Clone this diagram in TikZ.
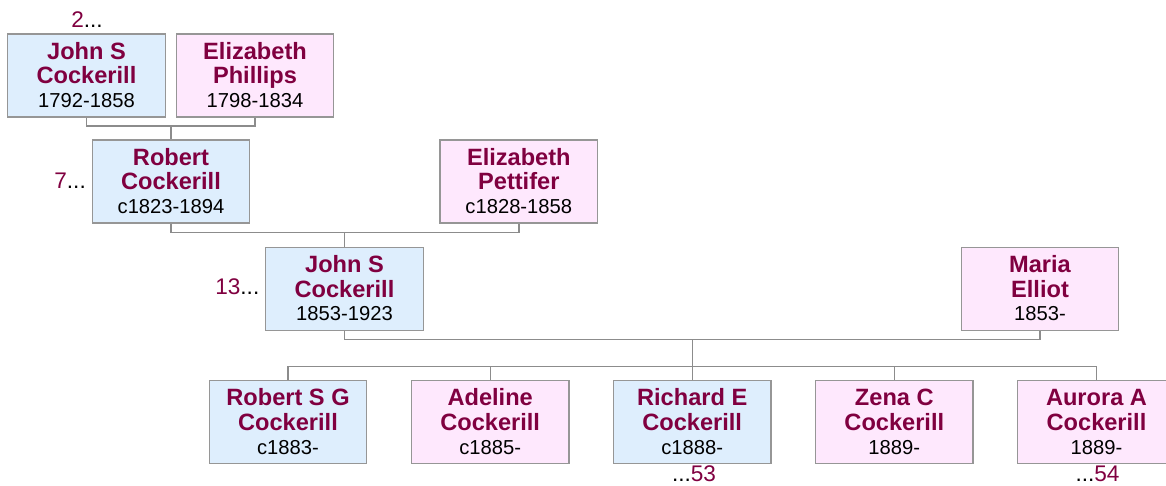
\documentclass[tikz,border=0pt]{standalone}
\usepackage{fontspec}
\setmainfont{Liberation Sans}
\definecolor{maroon}{RGB}{128,0,64}
\definecolor{bluefill}{RGB}{222,238,253}
\definecolor{pinkfill}{RGB}{254,232,253}
\definecolor{boxgray}{RGB}{150,150,150}
\definecolor{linegray}{RGB}{140,140,140}
\tikzset{
  pbox/.style={draw=boxgray, line width=1.4pt, minimum width=157.5pt, minimum height=83pt, inner sep=0pt, anchor=north},
  nm/.style={anchor=base, inner sep=0pt, text=maroon, font=\fontsize{23.6}{26}\selectfont\bfseries},
  dt/.style={anchor=base, inner sep=0pt, text=black, font=\fontsize{20.2}{24}\selectfont},
  lbl/.style={inner sep=0pt, text=black, font=\fontsize{22.6}{26}\selectfont},
  conn/.style={draw=linegray, line width=1.4pt}
}
\newcommand\person[7]{%
  \node[pbox, fill=#7] (#1) at (#2,#3) {};
  \node[nm] (#1-a) at ([yshift=-26pt]#1.north) {#4};
  \node[nm] (#1-b) at ([yshift=-50.5pt]#1.north) {#5};
  \node[dt] (#1-c) at ([yshift=-74.3pt]#1.north) {#6};
}
\begin{document}
\begin{tikzpicture}[x=1pt,y=-1pt]
\useasboundingbox (0,0) rectangle (1166,485);
\clip (0,0) rectangle (1166,485);
% generation 1
\person{js1}{86.5}{33.3}{John S}{Cockerill}{1792-1858}{bluefill}
\person{ep1}{255}{33.3}{Elizabeth}{Phillips}{1798-1834}{pinkfill}
% generation 2
\person{rc}{171}{139.3}{Robert}{Cockerill}{c1823-1894}{bluefill}
\person{ep2}{518.8}{139.3}{Elizabeth}{Pettifer}{c1828-1858}{pinkfill}
% generation 3
\person{js2}{344.5}{246.5}{John S}{Cockerill}{1853-1923}{bluefill}
\person{me}{1040}{246.5}{Maria}{Elliot}{1853-}{pinkfill}
% children
\person{k1}{288}{379.7}{Robert S G}{Cockerill}{c1883-}{bluefill}
\person{k2}{490.2}{379.7}{Adeline}{Cockerill}{c1885-}{pinkfill}
\person{k3}{692.2}{379.7}{Richard E}{Cockerill}{c1888-}{bluefill}
\person{k4}{894.3}{379.7}{Zena C}{Cockerill}{1889-}{pinkfill}
\person{k5}{1096.5}{379.7}{Aurora A}{Cockerill}{1889-}{pinkfill}
% connectors
\coordinate (m1) at (171,126);
\coordinate (m2) at (344.5,232.7);
\coordinate (m3) at (692.2,339.5);
\coordinate (c4) at (692.2,366.7);
\draw[conn] (js1.south) |- (m1) -| (ep1.south);
\draw[conn] (m1) -- (rc.north);
\draw[conn] (rc.south) |- (m2) -| (ep2.south);
\draw[conn] (m2) -- (js2.north);
\draw[conn] (js2.south) |- (m3) -| (me.south);
\draw[conn] (m3) -- (k3.north);
\draw[conn] (k1.north) |- (c4) -| (k5.north);
\draw[conn] (k2.north) -- (k2.north |- c4);
\draw[conn] (k4.north) -- (k4.north |- c4);
% labels
\node[lbl, anchor=base] (l2) at (87,27.7) {\textcolor{maroon}{2}...};
\node[lbl, anchor=base east] (l7) at (86,188.3) {\textcolor{maroon}{7}...};
\node[lbl, anchor=base east] (l13) at (259.5,294) {\textcolor{maroon}{13}...};
\node[lbl, anchor=base] (l53) at (694,481.5) {...\textcolor{maroon}{53}};
\node[lbl, anchor=base] (l54) at (1097.5,481.5) {...\textcolor{maroon}{54}};
\end{tikzpicture}
\end{document}
